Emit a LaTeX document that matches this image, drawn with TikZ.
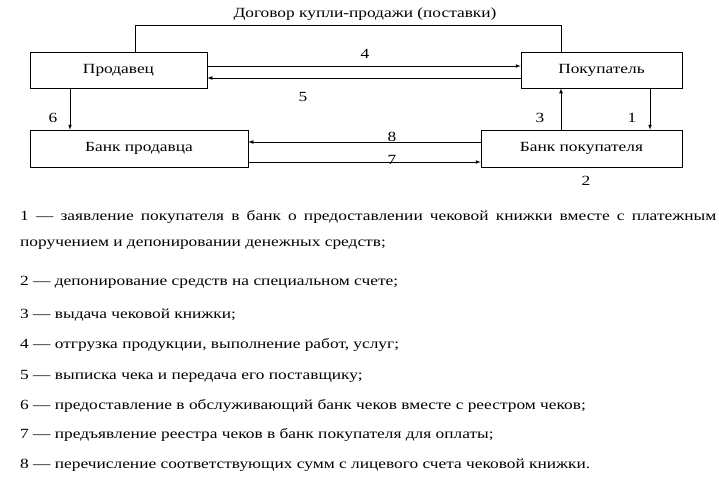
\documentclass[tikz,border=0pt]{standalone}
\usepackage{fontspec}
\setmainfont[FakeStretch=1.24]{Liberation Serif}
\begin{document}
\begin{tikzpicture}[x=1pt,y=-1pt,font=\fontsize{14}{15}\selectfont,
  bx/.style={draw,line width=0.7pt,inner sep=0pt},
  ar/.style={-latex,line width=0.7pt},
  lb/.style={inner sep=0pt,anchor=base},
  it/.style={inner sep=0pt,anchor=base west}]
\useasboundingbox (0,0) rectangle (719,479);
\node[bx,minimum width=177pt,minimum height=36pt] (pr) at (118.5,70) {Продавец};
\node[bx,minimum width=161pt,minimum height=36pt] (po) at (601.5,70) {Покупатель};
\node[bx,minimum width=218pt,minimum height=37pt] (bp) at (139,148.5) {Банк продавца};
\node[bx,minimum width=201pt,minimum height=37pt] (bk) at (581.5,148.5) {Банк покупателя};
\coordinate (t1) at (135,25); \coordinate (t2) at (561,25);
\draw[line width=0.7pt] (135,52) -- (t1) -- (t2) -- (561,52);
\node[lb] (tt) at (365,17) {Договор купли-продажи (поставки)};
\draw[ar] (pr.east|-0,66) -- (po.west|-0,66);
\draw[ar] (po.west|-0,78) -- (pr.east|-0,78);
\draw[ar] (70,88) -- (bp.north-|70,0);
\draw[ar] (561,130) -- (po.south-|561,0);
\draw[ar] (650,88) -- (bk.north-|650,0);
\draw[ar] (bk.west|-0,142) -- (bp.east|-0,142);
\draw[ar] (bp.east|-0,162) -- (bk.west|-0,162);
\node[lb] (l4) at (365,58) {4};
\node[lb] (l5) at (303,101) {5};
\node[lb] (l6) at (53,122) {6};
\node[lb] (l3) at (540,122) {3};
\node[lb] (l1) at (632,122) {1};
\node[lb] (l8) at (392,141) {8};
\node[lb] (l7) at (392,164) {7};
\node[lb] (l2) at (586,185) {2};
\node[inner sep=0pt,anchor=north west,text width=696pt,align=justify,
  font=\fontsize{14}{26}\selectfont] (i1) at (20,210)
  {1 — заявление покупателя в банк о предоставлении чековой книжки вместе с платежным поручением и депонировании денежных средств;};
\node[it] (i2) at (20,285) {2 — депонирование средств на специальном счете;};
\node[it] (i3) at (20,318) {3 — выдача чековой книжки;};
\node[it] (i4) at (20,348) {4 — отгрузка продукции, выполнение работ, услуг;};
\node[it] (i5) at (20,379) {5 — выписка чека и передача его поставщику;};
\node[it] (i6) at (20,409) {6 — предоставление в обслуживающий банк чеков вместе с реестром чеков;};
\node[it] (i7) at (20,438) {7 — предъявление реестра чеков в банк покупателя для оплаты;};
\node[it] (i8) at (20,468) {8 — перечисление соответствующих сумм с лицевого счета чековой книжки.};
\end{tikzpicture}
\end{document}
